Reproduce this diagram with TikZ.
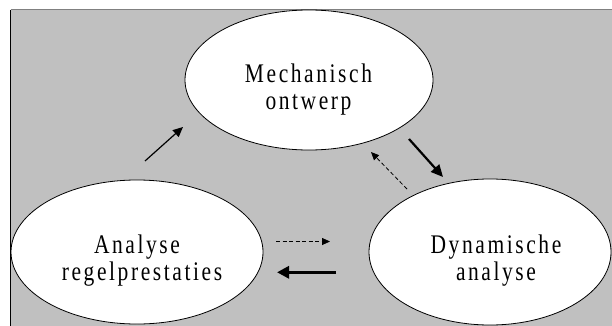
\documentclass[tikz,border=0pt]{standalone}
\usepackage{graphicx}
\usepackage{fontspec}
\setmainfont{Liberation Serif}[LetterSpace=12]
\usetikzlibrary{arrows.meta,shapes.geometric}
\definecolor{bggray}{HTML}{C0C0C0}
\definecolor{edgegray}{HTML}{808080}
\newcommand{\tallt}[1]{\scalebox{1}[1.25]{#1}}
\tikzset{
  ellnode/.style={draw=black, fill=white, ellipse, line width=0.8pt, inner sep=0pt},
  lbl/.style={anchor=base, inner sep=0pt, font=\fontsize{21.5}{26}\selectfont},
  thinarrow/.style={line width=1.2pt, -{Triangle[length=10pt,width=9pt]}},
  thickarrow/.style={line width=2.2pt, -{Triangle[length=12pt,width=11pt]}},
  heavyarrow/.style={line width=3pt, -{Triangle[length=12pt,width=12pt]}},
  dasharrow/.style={line width=0.8pt, dash pattern=on 4pt off 2.5pt, -{Triangle[length=8pt,width=7pt]}}
}
\begin{document}
\begin{tikzpicture}[x=1pt,y=-1pt]
\useasboundingbox (0,0) rectangle (612,326);
\clip (0,0) rectangle (612,326);
\fill[bggray] (10.5,10) rectangle (613,327);
\draw[edgegray, line width=1pt] (10.5,10) -- (613,10);
\draw[black, line width=1pt] (10.5,10) -- (10.5,327);
% ellipses
\node[ellnode, minimum width=248pt, minimum height=140pt] (mech) at (309,80) {};
\node[ellnode, minimum width=252pt, minimum height=144pt] (regel) at (137,252) {};
\node[ellnode, minimum width=242pt, minimum height=146pt] (dyn) at (490,252) {};
% texts
\node[lbl] (mechA) at (308.5,83) {\tallt{Mechanisch}};
\node[lbl] (mechB) at (308.5,110) {\tallt{ontwerp}};
\node[lbl] (regelA) at (137,253) {\tallt{Analyse}};
\node[lbl] (regelB) at (142,280) {\tallt{regelprestaties}};
\node[lbl] (dynA) at (496,253) {\tallt{Dynamische}};
\node[lbl] (dynB) at (496,280) {\tallt{analyse}};
% arrow end points
\coordinate (a1s) at (145,161); \coordinate (a1e) at (183,127);
\coordinate (a2s) at (409,139); \coordinate (a2e) at (443,177);
\coordinate (a3s) at (407,189); \coordinate (a3e) at (371,152);
\coordinate (a4s) at (276,241.5); \coordinate (a4e) at (330,241.5);
\coordinate (a5s) at (336,272.3); \coordinate (a5e) at (277,272.3);
\draw[thinarrow] (a1s) -- (a1e);
\draw[thickarrow] (a2s) -- (a2e);
\draw[dasharrow] (a3s) -- (a3e);
\draw[dasharrow] (a4s) -- (a4e);
\draw[heavyarrow] (a5s) -- (a5e);
\end{tikzpicture}
\end{document}
